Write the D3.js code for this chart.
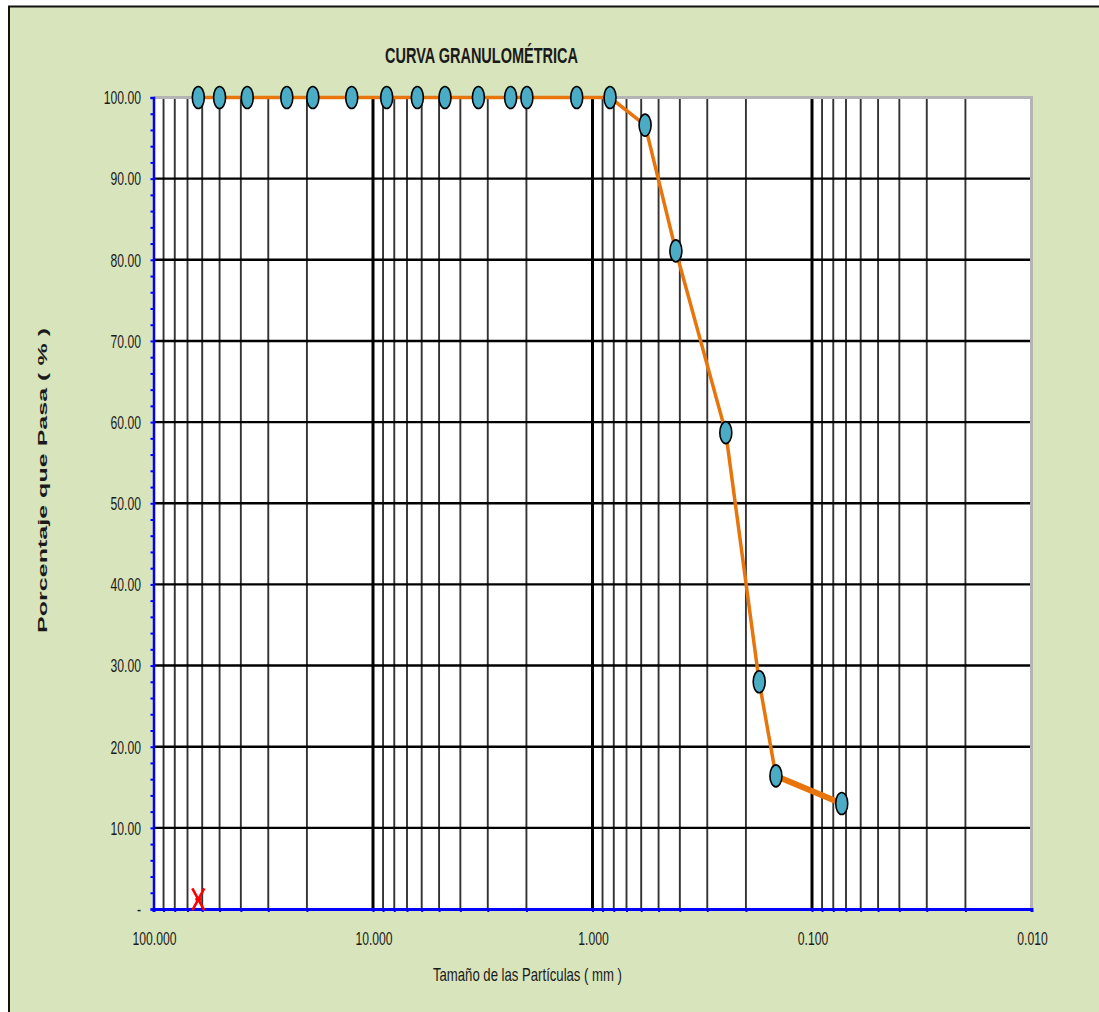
<!DOCTYPE html>
<html>
<head>
<meta charset="utf-8">
<script src="https://cdn.jsdelivr.net/npm/d3@7"></script>
<style>
  html, body { margin: 0; padding: 0; background: #ffffff; }
  svg { display: block; }
  text { font-family: "Liberation Sans", Arial, sans-serif; fill: #1a1a1a; }
</style>
</head>
<body>
<svg id="chart" width="1099" height="1012"></svg>
<script>
// Sieve openings (mm) and percentage passing
const sieveSizes = [62.5, 50.0, 37.4, 24.7, 18.8, 12.5, 8.66, 6.28, 4.70, 3.31,
                    2.36, 1.99, 1.18, 0.832, 0.576, 0.417, 0.247, 0.174, 0.146, 0.0732];
const percentPassing = [100, 100, 100, 100, 100, 100, 100, 100, 100, 100,
                        100, 100, 100, 100, 96.6, 81.1, 58.7, 28.0, 16.4, 13.0];
// Auxiliary marker series
const markerSizes = [62.5];
const markerValues = [1.2];

const xTickValues = [100, 10, 1, 0.1, 0.01];
const xTickLabels = ["100.000", "10.000", "1.000", "0.100", "0.010"];
const yTickValues = [0, 10, 20, 30, 40, 50, 60, 70, 80, 90, 100];
const yTickLabels = ["-", "10.00", "20.00", "30.00", "40.00", "50.00", "60.00", "70.00", "80.00", "90.00", "100.00"];

const titleText = "CURVA GRANULOMÉTRICA";
const xTitle = "Tamaño de las Partículas ( mm )";
const yTitle = "Porcentaje que Pasa ( % )";

const svg = d3.select("#chart");
const W = 1099, H = 1012;
const plot = { left: 153.5, right: 1031.5, top: 97.5, bottom: 909 };

const x = d3.scaleLog().domain([100, 0.01]).range([plot.left, plot.right]);
const y = d3.scaleLinear().domain([0, 100]).range([plot.bottom, plot.top]);

// Frame background
svg.append("rect").attr("x", 9).attr("y", 7).attr("width", W - 9).attr("height", H - 7)
  .attr("fill", "#d8e4bc");
svg.append("line").attr("x1", 8).attr("x2", W).attr("y1", 6.5).attr("y2", 6.5)
  .attr("stroke", "#111").attr("stroke-width", 2);
svg.append("line").attr("x1", 9).attr("x2", 9).attr("y1", 6).attr("y2", H)
  .attr("stroke", "#111").attr("stroke-width", 2);

// Plot area
svg.append("rect").attr("x", plot.left).attr("y", plot.top)
  .attr("width", plot.right - plot.left).attr("height", plot.bottom - plot.top)
  .attr("fill", "#ffffff");

// Vertical grid: minor lines at 2..9 x 10^k, major at each decade
const minorX = [];
[10, 1, 0.1, 0.01].forEach(base => {
  for (let m = 2; m <= 9; m++) minorX.push(base * m);
});
const gx = svg.append("g");
gx.selectAll("line.minor").data(minorX).join("line")
  .attr("x1", d => x(d)).attr("x2", d => x(d))
  .attr("y1", plot.top).attr("y2", plot.bottom)
  .attr("stroke", "#333").attr("stroke-width", 1.9);
gx.selectAll("line.major").data([10, 1, 0.1]).join("line")
  .attr("x1", d => x(d)).attr("x2", d => x(d))
  .attr("y1", plot.top).attr("y2", plot.bottom)
  .attr("stroke", "#000").attr("stroke-width", 3);

// Horizontal grid
svg.append("g").selectAll("line").data(d3.range(10, 100, 10)).join("line")
  .attr("x1", plot.left).attr("x2", plot.right)
  .attr("y1", d => y(d)).attr("y2", d => y(d))
  .attr("stroke", "#000").attr("stroke-width", 2.4);

// Top and right border of plot area
svg.append("path")
  .attr("d", `M${plot.left},${plot.top}H${plot.right}V${plot.bottom}`)
  .attr("fill", "none").attr("stroke", "#b4b4b4").attr("stroke-width", 3);

// Y axis (blue) with minor ticks every 2 %
const yAxis = d3.axisLeft(y).tickValues(d3.range(0, 101, 2)).tickSize(3).tickFormat("");
const gy = svg.append("g").attr("transform", `translate(${plot.left},0)`).call(yAxis);
gy.select(".domain").attr("stroke", "#0000ff").attr("stroke-width", 2.5);
gy.selectAll(".tick line").attr("stroke", "#0000ff").attr("stroke-width", 2);

// X axis (blue) with a tick at every grid line
const xAxis = d3.axisBottom(x).tickValues(minorX.concat(xTickValues)).tickSize(3).tickFormat("");
const gxa = svg.append("g").attr("transform", `translate(0,${plot.bottom})`).call(xAxis);
gxa.select(".domain").attr("stroke", "#0000ff").attr("stroke-width", 3);
gxa.selectAll(".tick line").attr("stroke", "#0000ff").attr("stroke-width", 2);

// Tick labels (condensed)
const yLab = svg.append("g");
yTickValues.forEach((v, i) => {
  yLab.append("text")
    .attr("transform", `translate(141,${y(v)}) scale(0.64,1)`)
    .attr("dy", "0.36em").attr("text-anchor", "end")
    .attr("font-size", 19)
    .text(yTickLabels[i]);
});
const xLab = svg.append("g");
xTickValues.forEach((v, i) => {
  xLab.append("text")
    .attr("transform", `translate(${x(v) + 1},938) scale(0.64,1)`)
    .attr("dy", "0.36em").attr("text-anchor", "middle")
    .attr("font-size", 19)
    .text(xTickLabels[i]);
});

// Titles
svg.append("text")
  .attr("x", 385).attr("y", 63)
  .attr("font-size", 22).attr("font-weight", "bold")
  .attr("textLength", 193).attr("lengthAdjust", "spacingAndGlyphs")
  .text(titleText);
svg.append("text")
  .attr("x", 433).attr("y", 981)
  .attr("font-size", 19)
  .attr("textLength", 189).attr("lengthAdjust", "spacingAndGlyphs")
  .text(xTitle);
svg.append("text")
  .attr("transform", "translate(47,480.5) rotate(-90) scale(1,0.66)")
  .attr("text-anchor", "middle")
  .attr("font-size", 20).attr("font-weight", "bold")
  .attr("textLength", 305).attr("lengthAdjust", "spacingAndGlyphs")
  .text(yTitle);

// Grading curve
const pts = sieveSizes.map((s, i) => ({ s, p: percentPassing[i] }));
const line = d3.line().x(d => x(d.s)).y(d => y(d.p));
svg.append("path").datum(pts)
  .attr("d", line).attr("fill", "none")
  .attr("stroke", "#e8740c").attr("stroke-width", 3.5)
  .attr("stroke-linejoin", "round");
// heavier last segment
svg.append("path").datum(pts.slice(-2))
  .attr("d", line).attr("fill", "none")
  .attr("stroke", "#e8740c").attr("stroke-width", 6);

svg.append("g").selectAll("ellipse").data(pts).join("ellipse")
  .attr("cx", d => x(d.s)).attr("cy", d => y(d.p))
  .attr("rx", 6).attr("ry", 11)
  .attr("fill", "#4bacc6").attr("stroke", "#000").attr("stroke-width", 1.6);

// Red cross marker
const mk = svg.append("g").selectAll("g").data(markerSizes.map((s, i) => ({ s, p: markerValues[i] }))).join("g")
  .attr("transform", d => `translate(${x(d.s)},${y(d.p)})`);
mk.append("path").attr("d", "M-6,-11L6,11M6,-11L-6,11M-3,0H3")
  .attr("stroke", "#ff0000").attr("stroke-width", 2.6).attr("fill", "none");
</script>
</body>
</html>
